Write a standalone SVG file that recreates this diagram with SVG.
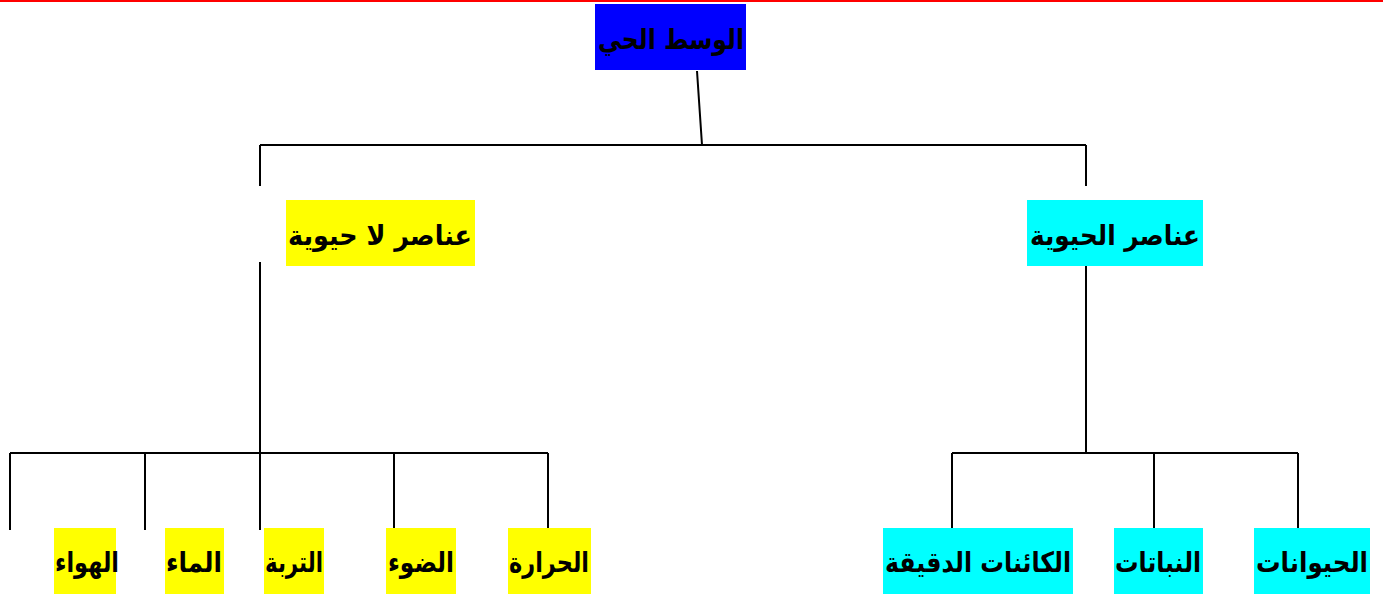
<svg xmlns="http://www.w3.org/2000/svg" width="1383" height="594" viewBox="0 0 1383 594">
<style>
.t{font-family:"DejaVu Sans",sans-serif;font-weight:bold;font-size:28px;fill:#000;text-anchor:middle;direction:rtl}
.c{stroke:#000;stroke-width:2;fill:none}
.y{fill:#ffff00}.cy{fill:#00ffff}.b{fill:#0000ff}
</style>
<rect x="0" y="0" width="1383" height="594" fill="#fff"/>
<rect x="0" y="0" width="1383" height="2" fill="#ff0000"/>
<g id="connectors">
<path class="c" d="M697,71 L702,145 M260,145 H1086 M260,145 V186 M1086,145 V186"/>
<path class="c" d="M260,262 V453 M10,453 H548 M10,453 V530 M145,453 V530 M260,453 V530 M394,453 V530 M548,453 V530"/>
<path class="c" d="M1086,266 V453 M952,453 H1298 M952,453 V530 M1154,453 V530 M1298,453 V530"/>
</g>
<g id="root"><rect class="b" x="595" y="4" width="151" height="66"/><text class="t" x="671" y="49" textLength="146" lengthAdjust="spacingAndGlyphs">الوسط الحي</text></g>
<g id="abiotic"><rect class="y" x="286" y="200" width="189" height="66"/><text class="t" x="380" y="245" textLength="184" lengthAdjust="spacingAndGlyphs">عناصر لا حيوية</text></g>
<g id="biotic"><rect class="cy" x="1027" y="200" width="176" height="66"/><text class="t" x="1115" y="245" textLength="170" lengthAdjust="spacingAndGlyphs">عناصر الحيوية</text></g>
<g id="air"><rect class="y" x="54" y="528" width="62" height="66"/><text class="t" x="87" y="572" textLength="64" lengthAdjust="spacingAndGlyphs">الهواء</text></g>
<g id="water"><rect class="y" x="165" y="528" width="59" height="66"/><text class="t" x="194" y="572" textLength="56" lengthAdjust="spacingAndGlyphs">الماء</text></g>
<g id="soil"><rect class="y" x="264" y="528" width="60" height="66"/><text class="t" x="294" y="572" textLength="58" lengthAdjust="spacingAndGlyphs">التربة</text></g>
<g id="light"><rect class="y" x="386" y="528" width="70" height="66"/><text class="t" x="421" y="572" textLength="66" lengthAdjust="spacingAndGlyphs">الضوء</text></g>
<g id="heat"><rect class="y" x="508" y="528" width="83" height="66"/><text class="t" x="549" y="572" textLength="80" lengthAdjust="spacingAndGlyphs">الحرارة</text></g>
<g id="micro"><rect class="cy" x="883" y="528" width="190" height="66"/><text class="t" x="978" y="572" textLength="186" lengthAdjust="spacingAndGlyphs">الكائنات الدقيقة</text></g>
<g id="plants"><rect class="cy" x="1114" y="528" width="89" height="66"/><text class="t" x="1158" y="572" textLength="86" lengthAdjust="spacingAndGlyphs">النباتات</text></g>
<g id="animals"><rect class="cy" x="1254" y="528" width="116" height="66"/><text class="t" x="1312" y="572" textLength="112" lengthAdjust="spacingAndGlyphs">الحيوانات</text></g>
</svg>
